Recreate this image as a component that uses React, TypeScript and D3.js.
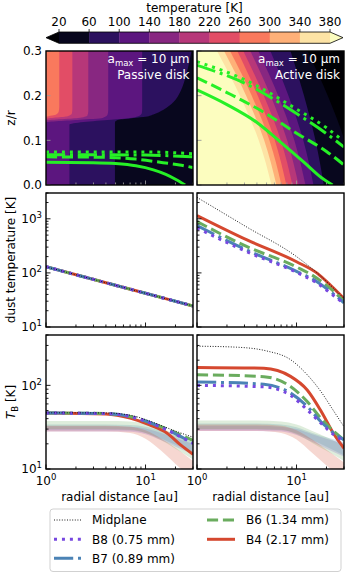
import React from 'react';
import * as d3 from 'd3';

const FONT = "'DejaVu Sans', sans-serif";

// ---------- colour levels ----------
const tempLevels = [20, 60, 100, 140, 180, 220, 260, 300, 340, 380];

// ---------- passive disk iso-temperature boundaries [r (au), z/r] ----------
const passive60 = [[4.93, 0], [4.93, 0.14], [5.3, 0.146], [7, 0.149], [9.5, 0.152], [12, 0.158], [15, 0.168], [19, 0.185], [22.5, 0.21], [25.5, 0.245], [27.5, 0.275], [29, 0.3]];
const passive100 = [[1.72, 0], [1.72, 0.135], [2.4, 0.141], [4.5, 0.146], [7, 0.15], [8.7, 0.155], [9.2, 0.162], [9.26, 0.172], [9.26, 0.3]];
const passive140 = [[1, 0], [1, 0.14], [2.2, 0.146], [3.7, 0.15], [4.15, 0.157], [4.22, 0.168], [4.22, 0.3]];
const passive180 = [[1, 0], [1, 0.144], [2.1, 0.15], [2.6, 0.155], [2.66, 0.165], [2.66, 0.3]];
const passive220 = [[1, 0], [1, 0.148], [1.65, 0.154], [1.82, 0.16], [1.84, 0.17], [1.84, 0.3]];
const passive260 = [[1, 0], [1, 0.152], [1.25, 0.157], [1.34, 0.164], [1.36, 0.175], [1.36, 0.3]];
const passiveIsoLevels = [60, 100, 140, 180, 220, 260];
const passiveIso = [passive60, passive100, passive140, passive180, passive220, passive260];

// ---------- active disk iso-temperature boundaries [r (au), z/r] ----------
const active20 = [[39, 0], [30.4, 0.1], [20.6, 0.2], [12.9, 0.3]];
const active60 = [[18.8, 0], [15.5, 0.1], [11.9, 0.2], [8.7, 0.3]];
const active100 = [[14.8, 0], [11.7, 0.1], [8.3, 0.2], [5.46, 0.3]];
const active140 = [[12.3, 0], [9.5, 0.1], [6.55, 0.2], [4.13, 0.3]];
const active180 = [[10.5, 0], [8.05, 0.1], [5.5, 0.2], [3.43, 0.3]];
const active220 = [[9.1, 0], [6.95, 0.1], [4.7, 0.2], [2.92, 0.3]];
const active260 = [[7.9, 0], [6.05, 0.1], [4.08, 0.2], [2.54, 0.3]];
const active300 = [[7.05, 0], [5.34, 0.1], [3.55, 0.2], [2.15, 0.3]];
const active340 = [[6.28, 0], [4.73, 0.1], [3.12, 0.2], [1.87, 0.3]];
const active380 = [[5.6, 0], [4.17, 0.1], [2.7, 0.2], [1.59, 0.3]];
const activeIsoLevels = [20, 60, 100, 140, 180, 220, 260, 300, 340, 380];
const activeIso = [active20, active60, active100, active140, active180, active220, active260, active300, active340, active380];

// ---------- tau=1 surfaces [r, z/r] ----------
const passiveSurfB4 = [[1, 0.051], [3, 0.05], [5, 0.048], [8, 0.043], [12, 0.034], [16, 0.024], [20, 0.013], [25, 0.0]];
const passiveSurfB6 = [[1, 0.063], [4, 0.062], [8, 0.058], [15, 0.05], [22, 0.045], [30, 0.039]];
const passiveSurfB7 = [[1, 0.068], [10, 0.067], [30, 0.063]];
const passiveSurfB8 = [[1, 0.074], [10, 0.074], [30, 0.07]];
const activeSurfB4 = [[1, 0.213], [2, 0.18], [4, 0.14], [7, 0.095], [12, 0.05], [17, 0.02], [23, 0]];
const activeSurfB6 = [[1, 0.24], [2, 0.207], [4.6, 0.164], [10, 0.116], [20, 0.075], [30, 0.045]];
const activeSurfB7 = [[1, 0.268], [3, 0.228], [10, 0.16], [20, 0.115], [30, 0.085]];
const activeSurfB8 = [[1, 0.276], [3, 0.236], [10, 0.17], [20, 0.128], [29, 0.1]];

// ---------- dust temperature ----------
const passiveDustR = [1, 10, 30];
const passiveDustMid = [130, 42, 24.5];
const passiveDustB8 = [130, 42, 24.5];
const passiveDustB7 = [130, 42, 24.5];
const passiveDustB6 = [130, 42, 24.5];
const passiveDustB4 = [130, 42, 24.5];

const activeDustR = [1, 3.18, 10, 16.2, 22, 30];
const activeDustMid = [2490, 700, 200, 99, 59, 33.6];
const activeDustB4 = [1150, 407, 161, 98, 59, 33.6];
const activeDustB6 = [891, 305, 129, 79, 51, 30];
const activeDustB7 = [752, 263, 107, 68, 45, 28];
const activeDustB8 = [676, 245, 102, 64, 42, 27];

// ---------- brightness temperature ----------
const passiveTbR = [1, 4, 7, 11, 16.5, 22.5, 30];
const passiveTbMid = [47, 46.8, 44, 37.5, 31, 27, 24];
const passiveTbB4 = [46.7, 45.4, 40.6, 33.7, 26.8, 19.4, 15];
const passiveTbB6 = [46.7, 46, 42.5, 36, 30, 25.5, 22];
const passiveTbB7 = [46.7, 46, 42.5, 36, 29.5, 24.5, 20.5];
const passiveTbB8 = [46.7, 46, 42.5, 35.8, 29.3, 24.2, 20.2];

const activeTbMidR = [1, 2.5, 5, 8.7, 12.8, 17.5, 23.8, 30];
const activeTbMid = [294, 286, 258, 203, 134, 85, 48.7, 32];
const activeTbR = [1, 4.7, 8.7, 12.8, 17.5, 23.8, 30];
const activeTbB4 = [164, 160, 128, 88, 50, 26, 17.7];
const activeTbB6 = [134, 127, 97, 64, 40.6, 28, 22.3];
const activeTbB7 = [110, 103, 81, 56, 37, 26.8, 22.3];
const activeTbB8 = [100, 96, 76, 51, 35.5, 25.6, 21.7];

// shaded ranges
const bandR = [1, 4, 7, 10, 14.4, 20, 30];
const passiveRangeB8 = { lo: [28, 28, 27.8, 26, 22, 18.5, 15], hi: [32.5, 32.5, 32, 30.5, 27, 23.5, 20] };
const passiveRangeB7 = { lo: [29, 29, 28.8, 27, 23, 19.5, 15.5], hi: [34, 34, 33.5, 32, 28.5, 25, 21] };
const passiveRangeB6 = { lo: [30, 30, 29.5, 27, 22, 17.5, 13], hi: [37.5, 37.5, 37, 35, 30.5, 26, 21] };
const passiveRangeB4 = { lo: [28, 28, 27, 23, 16.5, 11.5, 7.5], hi: [33, 33, 32, 29, 23, 18, 12.5] };
const activeRangeB8 = { lo: [28.5, 28.5, 28, 25.5, 21, 17.5, 14], hi: [33, 33, 32, 30, 26, 23, 20] };
const activeRangeB7 = { lo: [29.5, 29.5, 29, 26.5, 22, 18.5, 14.5], hi: [35, 35, 34, 31.5, 27, 24, 21] };
const activeRangeB6 = { lo: [30, 30, 29.5, 26, 20.5, 16.5, 12.5], hi: [38, 38, 37, 34, 28.5, 24, 19] };
const activeRangeB4 = { lo: [28.5, 28.5, 27, 22.5, 15.5, 11, 7.5], hi: [34, 34, 33, 29, 22.5, 17, 12] };

// ticks
const xMajor = [1, 10];
const xMinor = [2, 3, 4, 5, 6, 7, 8, 9, 20, 30];
const zrTicks = [0, 0.1, 0.2, 0.3];
const dustMajor = [10, 100, 1000];
const dustMinor = [20, 30, 40, 50, 60, 70, 80, 90, 200, 300, 400, 500, 600, 700, 800, 900, 2000, 3000];
const tbMajor = [10, 100];
const tbMinor = [20, 30, 40, 50, 60, 70, 80, 90, 200, 300, 400];

const legendLabels = ['Midplane', 'B8 (0.75 mm)', 'B7 (0.89 mm)', 'B6 (1.34 mm)', 'B4 (2.17 mm)'];

// ---------- styles ----------
const bandStyle: Record<string, { color: string; dash: string | undefined }> = {
  B8: { color: '#7748e0', dash: '3 4.95' },
  B7: { color: '#4b83b5', dash: '19.2 4.8 3 4.8' },
  B6: { color: '#6aac5e', dash: '11.1 4.8' },
  B4: { color: '#d5482f', dash: undefined },
};
const GREEN = '#26f026';

const bandColor = (i: number) => d3.interpolateMagma(((tempLevels[i] + tempLevels[i + 1]) / 2 - 20) / 360);
const underColor = d3.interpolateMagma(0);
const overColor = d3.interpolateMagma(1);
const colorForLevel = (lv: number) => {
  const i = tempLevels.indexOf(lv);
  return i >= tempLevels.length - 1 ? overColor : bandColor(i);
};

const COLS = [[46, 193], [197, 344]];
const ROWS = [[51, 185], [193, 327], [335, 469]];

function Pow({ x, y, exp, anchor }: { x: number; y: number; exp: number; anchor: string }) {
  return (
    <text x={x} y={y} fontSize={12} textAnchor={anchor} fontFamily={FONT} fill="#000">
      10<tspan fontSize={8.5} dy={-5}>{exp}</tspan>
    </text>
  );
}

export default function App() {
  const xs = COLS.map(c => d3.scaleLog().domain([1, 30]).range(c));
  const yZ = d3.scaleLinear().domain([0, 0.3]).range([ROWS[0][1], ROWS[0][0]]);
  const yD = d3.scaleLog().domain([10, 3000]).range([ROWS[1][1], ROWS[1][0]]);
  const yB = d3.scaleLog().domain([10, 400]).range([ROWS[2][1], ROWS[2][0]]);

  const isoPath = (x: any, pts: number[][]) => {
    const sorted = [...pts].sort((a, b) => b[1] - a[1]);
    return d3.area<number[]>().y(d => yZ(d[1])).x0(x(1)).x1(d => x(d[0])).curve(d3.curveMonotoneY)(sorted) || '';
  };
  const surfPath = (x: any, pts: number[][]) =>
    d3.line<number[]>().x(d => x(d[0])).y(d => yZ(d[1])).curve(d3.curveMonotoneX)(pts) || '';
  const seriesPath = (x: any, y: any, r: number[], v: number[]) =>
    d3.line<number>().x((d, i) => x(r[i])).y(d => y(d)).curve(d3.curveMonotoneX)(v) || '';
  const rangePath = (x: any, y: any, r: number[], rg: { lo: number[]; hi: number[] }) =>
    d3.area<number>().x((d, i) => x(r[i])).y0((d, i) => y(rg.lo[i])).y1((d, i) => y(rg.hi[i])).curve(d3.curveMonotoneX)(rg.lo) || '';

  const clipId = (c: number, r: number) => `clip-${c}-${r}`;

  const frame = (c: number, r: number) => (
    <rect x={COLS[c][0]} y={ROWS[r][0]} width={COLS[c][1] - COLS[c][0]} height={ROWS[r][1] - ROWS[r][0]} fill="none" stroke="#000" strokeWidth={1.4} />
  );

  const xTicks = (c: number, r: number, color: string) => {
    const x = xs[c];
    const yb = ROWS[r][1];
    return (
      <g stroke={color} strokeWidth={0.9}>
        {xMajor.map(v => <line key={'M' + v} x1={x(v)} x2={x(v)} y1={yb} y2={yb - 4.5} />)}
        {xMinor.map(v => <line key={'m' + v} x1={x(v)} x2={x(v)} y1={yb} y2={yb - 2.5} />)}
      </g>
    );
  };
  const yTicks = (c: number, y: any, major: number[], minor: number[], color: string) => {
    const xl = COLS[c][0];
    return (
      <g stroke={color} strokeWidth={0.9}>
        {major.map(v => <line key={'M' + v} x1={xl} x2={xl + 4.5} y1={y(v)} y2={y(v)} />)}
        {minor.map(v => <line key={'m' + v} x1={xl} x2={xl + 2.5} y1={y(v)} y2={y(v)} />)}
      </g>
    );
  };

  const drawLines = (x: any, y: any, sets: { key: string; r: number[]; v: number[] }[], mid: { r: number[]; v: number[] }) => (
    <g fill="none">
      {sets.map(s => (
        <path key={s.key} d={seriesPath(x, y, s.r, s.v)} stroke={bandStyle[s.key].color} strokeWidth={3} strokeDasharray={bandStyle[s.key].dash} strokeLinecap="butt" />
      ))}
      <path d={seriesPath(x, y, mid.r, mid.v)} stroke="#000" strokeWidth={0.9} strokeDasharray="1 1.6" />
    </g>
  );

  const drawRanges = (x: any, y: any, sets: { key: string; rg: { lo: number[]; hi: number[] } }[]) => (
    <g>
      {sets.map(s => (
        <path key={s.key} d={rangePath(x, y, bandR, s.rg)} fill={bandStyle[s.key].color} fillOpacity={0.22} stroke="none" />
      ))}
    </g>
  );

  const surfaces = (x: any, list: { key: string; pts: number[][] }[]) => (
    <g fill="none">
      {list.map(s => (
        <path key={s.key} d={surfPath(x, s.pts)} stroke={GREEN} strokeWidth={3} strokeDasharray={bandStyle[s.key].dash} />
      ))}
    </g>
  );

  // colorbar
  const cb = d3.scaleLinear().domain([20, 380]).range([59, 330]);
  const cbTop = 32, cbBot = 43.3, cbMid = (cbTop + cbBot) / 2;

  const annot = (xr: number, name: string) => (
    <g fontFamily={FONT} fontSize={12} fill="#fff" textAnchor="end">
      <text x={xr} y={63}>
        a<tspan fontSize={8.5} dy={3}>max</tspan><tspan dy={-3}> = 10 µm</tspan>
      </text>
      <text x={xr} y={78.5}>{name}</text>
    </g>
  );

  const legendX1 = [54, 207];
  const legendTx = [92, 246];
  const legendRows = [520, 539.3, 558.3];
  const legendKeys = ['MID', 'B8', 'B7', 'B6', 'B4'];

  return (
    <svg width={354} height={573} style={{ position: 'absolute', left: 0, top: 0, background: '#fff' }} fontFamily={FONT}>
      <defs>
        {[0, 1].map(c => [0, 1, 2].map(r => (
          <clipPath id={clipId(c, r)} key={c + '-' + r}>
            <rect x={COLS[c][0]} y={ROWS[r][0]} width={COLS[c][1] - COLS[c][0]} height={ROWS[r][1] - ROWS[r][0]} />
          </clipPath>
        )))}
      </defs>

      {/* colorbar */}
      <text x={194.5} y={11.5} fontSize={12} textAnchor="middle">temperature [K]</text>
      {tempLevels.slice(0, -1).map((lv, i) => (
        <rect key={lv} x={cb(lv)} y={cbTop} width={cb(tempLevels[i + 1]) - cb(lv) + 0.3} height={cbBot - cbTop} fill={bandColor(i)} />
      ))}
      <path d={`M${cb(20)},${cbTop}L${cb(20) - 13},${cbMid}L${cb(20)},${cbBot}Z`} fill={underColor} />
      <path d={`M${cb(380)},${cbTop}L${cb(380) + 13},${cbMid}L${cb(380)},${cbBot}Z`} fill={overColor} />
      <path d={`M${cb(20)},${cbTop}L${cb(380)},${cbTop}L${cb(380) + 13},${cbMid}L${cb(380)},${cbBot}L${cb(20)},${cbBot}L${cb(20) - 13},${cbMid}Z`} fill="none" stroke="#000" strokeWidth={0.8} />
      {tempLevels.map(lv => (
        <g key={lv}>
          <line x1={cb(lv)} x2={cb(lv)} y1={cbTop} y2={cbTop - 3} stroke="#000" strokeWidth={0.8} />
          <text x={cb(lv)} y={26} fontSize={12} textAnchor="middle">{lv}</text>
        </g>
      ))}

      {/* top-left passive map */}
      <g clipPath={`url(#${clipId(0, 0)})`}>
        <rect x={COLS[0][0]} y={ROWS[0][0]} width={COLS[0][1] - COLS[0][0]} height={ROWS[0][1] - ROWS[0][0]} fill={bandColor(0)} />
        {passiveIso.map((pts, i) => (
          <path key={i} d={isoPath(xs[0], pts)} fill={colorForLevel(passiveIsoLevels[i])} />
        ))}
        {surfaces(xs[0], [
          { key: 'B4', pts: passiveSurfB4 },
          { key: 'B6', pts: passiveSurfB6 },
          { key: 'B7', pts: passiveSurfB7 },
          { key: 'B8', pts: passiveSurfB8 },
        ])}
      </g>
      {xTicks(0, 0, '#9a9a9a')}
      {yTicks(0, yZ, zrTicks, [], '#9a9a9a')}
      {annot(189.5, 'Passive disk')}
      {frame(0, 0)}

      {/* top-right active map */}
      <g clipPath={`url(#${clipId(1, 0)})`}>
        <rect x={COLS[1][0]} y={ROWS[0][0]} width={COLS[1][1] - COLS[1][0]} height={ROWS[0][1] - ROWS[0][0]} fill={underColor} />
        {activeIso.map((pts, i) => (
          <path key={i} d={isoPath(xs[1], pts)} fill={colorForLevel(activeIsoLevels[i])} />
        ))}
        {surfaces(xs[1], [
          { key: 'B4', pts: activeSurfB4 },
          { key: 'B6', pts: activeSurfB6 },
          { key: 'B7', pts: activeSurfB7 },
          { key: 'B8', pts: activeSurfB8 },
        ])}
      </g>
      {xTicks(1, 0, '#9a9a9a')}
      {yTicks(1, yZ, zrTicks, [], '#9a9a9a')}
      {annot(340, 'Active disk')}
      {frame(1, 0)}

      {/* z/r axis labels */}
      {zrTicks.map(v => (
        <text key={v} x={42} y={yZ(v) + 4.3} fontSize={12} textAnchor="end">{v.toFixed(1)}</text>
      ))}
      <text transform={`translate(15,118) rotate(-90)`} fontSize={12} textAnchor="middle">z/r</text>

      {/* middle row: dust temperature */}
      <g clipPath={`url(#${clipId(0, 1)})`}>
        {drawLines(xs[0], yD, [
          { key: 'B4', r: passiveDustR, v: passiveDustB4 },
          { key: 'B6', r: passiveDustR, v: passiveDustB6 },
          { key: 'B7', r: passiveDustR, v: passiveDustB7 },
          { key: 'B8', r: passiveDustR, v: passiveDustB8 },
        ], { r: passiveDustR, v: passiveDustMid })}
      </g>
      <g clipPath={`url(#${clipId(1, 1)})`}>
        {drawLines(xs[1], yD, [
          { key: 'B4', r: activeDustR, v: activeDustB4 },
          { key: 'B6', r: activeDustR, v: activeDustB6 },
          { key: 'B7', r: activeDustR, v: activeDustB7 },
          { key: 'B8', r: activeDustR, v: activeDustB8 },
        ], { r: activeDustR, v: activeDustMid })}
      </g>
      {[0, 1].map(c => (
        <g key={c}>
          {xTicks(c, 1, '#000')}
          {yTicks(c, yD, dustMajor, dustMinor, '#000')}
          {frame(c, 1)}
        </g>
      ))}
      {dustMajor.map((v, i) => <Pow key={v} x={42} y={yD(v) + 4.3} exp={i + 1} anchor="end" />)}
      <text transform={`translate(15,260) rotate(-90)`} fontSize={12} textAnchor="middle">dust temperature [K]</text>

      {/* bottom row: brightness temperature */}
      <g clipPath={`url(#${clipId(0, 2)})`}>
        {drawRanges(xs[0], yB, [
          { key: 'B8', rg: passiveRangeB8 },
          { key: 'B7', rg: passiveRangeB7 },
          { key: 'B6', rg: passiveRangeB6 },
          { key: 'B4', rg: passiveRangeB4 },
        ])}
        {drawLines(xs[0], yB, [
          { key: 'B4', r: passiveTbR, v: passiveTbB4 },
          { key: 'B6', r: passiveTbR, v: passiveTbB6 },
          { key: 'B7', r: passiveTbR, v: passiveTbB7 },
          { key: 'B8', r: passiveTbR, v: passiveTbB8 },
        ], { r: passiveTbR, v: passiveTbMid })}
      </g>
      <g clipPath={`url(#${clipId(1, 2)})`}>
        {drawRanges(xs[1], yB, [
          { key: 'B8', rg: activeRangeB8 },
          { key: 'B7', rg: activeRangeB7 },
          { key: 'B6', rg: activeRangeB6 },
          { key: 'B4', rg: activeRangeB4 },
        ])}
        {drawLines(xs[1], yB, [
          { key: 'B4', r: activeTbR, v: activeTbB4 },
          { key: 'B6', r: activeTbR, v: activeTbB6 },
          { key: 'B7', r: activeTbR, v: activeTbB7 },
          { key: 'B8', r: activeTbR, v: activeTbB8 },
        ], { r: activeTbMidR, v: activeTbMid })}
      </g>
      {[0, 1].map(c => (
        <g key={c}>
          {xTicks(c, 2, '#000')}
          {yTicks(c, yB, tbMajor, tbMinor, '#000')}
          {frame(c, 2)}
          {xMajor.map((v, i) => <Pow key={v} x={xs[c](v)} y={485} exp={i} anchor="middle" />)}
          <text x={(COLS[c][0] + COLS[c][1]) / 2} y={501} fontSize={12} textAnchor="middle">radial distance [au]</text>
        </g>
      ))}
      {tbMajor.map((v, i) => <Pow key={v} x={42} y={yB(v) + 4.3} exp={i + 1} anchor="end" />)}
      <text transform={`translate(15,402) rotate(-90)`} fontSize={12} textAnchor="middle">
        <tspan fontStyle="italic">T</tspan><tspan fontSize={8.5} dy={3}>B</tspan><tspan dy={-3}> [K]</tspan>
      </text>

      {/* legend */}
      <rect x={50} y={509} width={291} height={62.5} rx={3} fill="#fff" stroke="#cccccc" strokeWidth={0.9} />
      {legendLabels.map((lab, i) => {
        const col = i < 3 ? 0 : 1;
        const row = i < 3 ? i : i - 3;
        const y = legendRows[row];
        const k = legendKeys[i];
        const st = k === 'MID' ? { color: '#000', dash: '1 1.6' } : bandStyle[k];
        return (
          <g key={lab}>
            <line x1={legendX1[col]} x2={legendX1[col] + 28} y1={y} y2={y} stroke={st.color} strokeWidth={k === 'MID' ? 0.9 : 3} strokeDasharray={st.dash} />
            <text x={legendTx[col]} y={y + 4.3} fontSize={12}>{lab}</text>
          </g>
        );
      })}
    </svg>
  );
}
